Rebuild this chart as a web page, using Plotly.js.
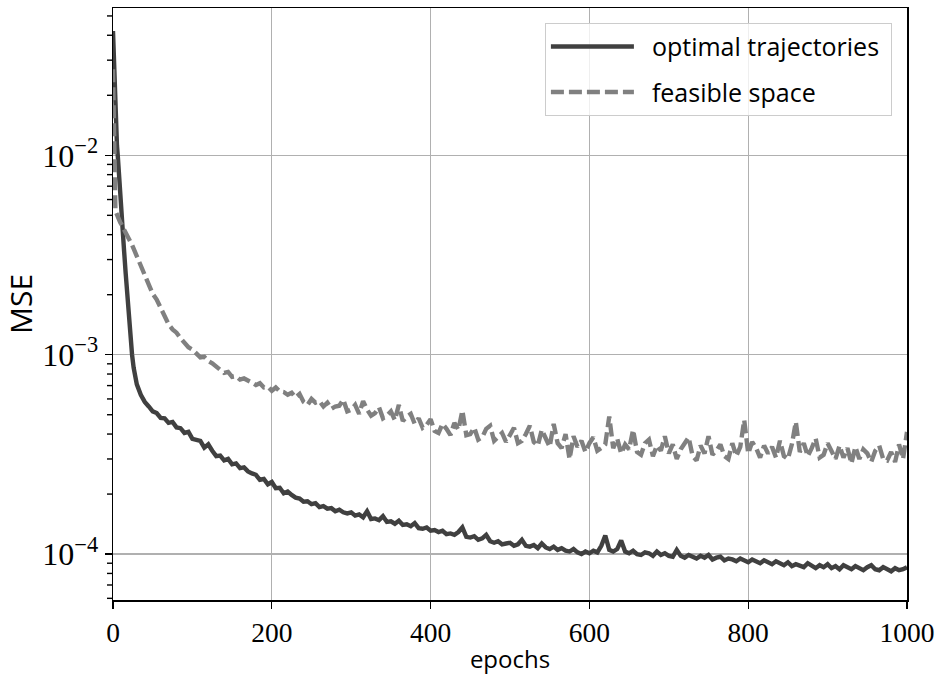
<!DOCTYPE html>
<html>
<head>
<meta charset="utf-8">
<script src="https://cdn.plot.ly/plotly-3.0.1.min.js"></script>
<style>html,body{margin:0;padding:0;background:#fff;}#chart{width:938px;height:675px;}</style>
</head>
<body>
<div id="chart"></div>
<script>
// Epochs at which values were read
const epochs = [0,1,2,3,4,5,6,7,8,9,10,12,14,16,18,20,22,24,26,28,30,
35,40,45,50,55,60,65,70,75,80,
85,90,95,100,105,110,115,120,125,130,
135,140,145,150,155,160,165,170,175,180,
185,190,195,200,205,210,215,220,225,230,
235,240,245,250,255,260,265,270,275,280,
285,290,295,300,305,310,315,320,325,330,
335,340,345,350,355,360,365,370,375,380,
385,390,395,400,405,410,415,420,425,430,
435,440,445,450,455,460,465,470,475,480,
485,490,495,500,505,510,515,520,525,530,
535,540,545,550,555,560,565,570,575,580,
585,590,595,600,605,610,615,620,625,630,
635,640,645,650,655,660,665,670,675,680,
685,690,695,700,705,710,715,720,725,730,
735,740,745,750,755,760,765,770,775,780,
785,790,795,800,805,810,815,820,825,830,
835,840,845,850,855,860,865,870,875,880,
885,890,895,900,905,910,915,920,925,930,
935,940,945,950,955,960,965,970,975,980,
985,990,995,1000];

// MSE of "optimal trajectories", in units of 1e-4
const optimalE4 = [420,300,220,165,130,112,100,85,72,61,55,43,33,25.5,19.5,15.5,12.2,10.0,8.6,7.7,7.1,
6.3,5.8,5.5,5.2,5.1,4.82,4.8,4.55,4.6,4.32,
4.28,4.05,4.1,3.78,3.74,3.7,3.42,3.55,3.3,3.1,
3.12,2.95,3.0,2.82,2.85,2.7,2.72,2.6,2.54,2.5,
2.36,2.38,2.24,2.3,2.14,2.15,2.02,2.06,1.98,1.92,
1.9,1.83,1.84,1.78,1.8,1.72,1.74,1.69,1.7,1.64,
1.67,1.62,1.6,1.62,1.56,1.58,1.53,1.64,1.5,1.51,
1.48,1.55,1.45,1.46,1.42,1.47,1.4,1.41,1.38,1.43,
1.35,1.34,1.36,1.31,1.32,1.29,1.31,1.26,1.27,1.25,
1.29,1.36,1.22,1.21,1.23,1.18,1.2,1.25,1.16,1.14,
1.16,1.12,1.13,1.14,1.1,1.12,1.18,1.1,1.09,1.11,
1.07,1.13,1.08,1.06,1.09,1.05,1.07,1.04,1.03,1.06,
1.02,1.0,1.03,1.01,1.04,1.02,1.1,1.24,1.05,1.03,
1.06,1.17,1.03,1.01,1.04,1.0,0.99,1.02,1.01,0.98,
1.03,0.99,1.01,0.98,0.97,1.05,0.98,0.96,0.99,0.97,
0.95,0.98,0.96,0.99,0.94,0.96,0.97,0.93,0.95,0.94,
0.92,0.95,0.93,0.91,0.94,0.92,0.9,0.93,0.91,0.89,
0.92,0.9,0.88,0.91,0.87,0.89,0.88,0.86,0.9,0.87,
0.85,0.88,0.86,0.89,0.85,0.87,0.84,0.88,0.86,0.84,
0.87,0.85,0.83,0.86,0.88,0.84,0.83,0.86,0.84,0.82,
0.85,0.83,0.84,0.86];

// MSE of "feasible space", in units of 1e-4
const feasibleE4 = [270,110,62,54,51.5,50,49,48,47,46.2,45.5,44,42.8,41.5,40,38.5,37,35.5,34,32.5,31,
27.5,24.5,22.3,20.2,18.9,17.2,15.9,14.2,13.4,12.9,
12.1,11.4,10.9,10.6,10.2,9.7,9.75,9.3,9.05,8.75,
8.45,8.1,8.2,7.75,7.8,7.5,7.6,7.45,7.25,7.05,
7.2,6.85,6.9,6.6,6.85,6.55,6.5,6.3,6.45,6.1,
6.35,5.8,5.6,6.0,5.75,5.85,5.5,5.75,5.35,5.5,
5.55,5.95,5.2,5.3,5.6,5.05,5.85,5.3,4.95,5.1,
5.45,4.8,4.95,5.2,4.7,5.6,4.65,4.9,5.05,4.5,
4.8,4.3,4.45,4.75,4.15,4.05,4.5,4.25,3.95,4.55,
4.2,5.25,3.95,4.0,4.3,3.75,3.85,4.25,4.4,3.7,
3.9,4.05,3.65,3.95,4.3,3.6,3.7,4.0,4.4,3.65,
3.5,4.2,3.8,3.45,4.5,3.6,3.4,4.0,3.0,3.9,
3.45,3.7,3.25,3.6,3.85,3.3,3.4,3.55,4.9,3.4,
3.8,3.2,3.55,3.35,4.2,3.25,3.15,3.6,3.75,3.1,
3.5,3.3,3.9,3.2,3.55,3.0,3.35,3.6,3.85,3.1,
2.95,3.5,3.2,3.9,3.15,3.3,3.55,3.1,3.0,3.6,
3.1,3.45,4.7,3.2,3.65,3.4,3.05,3.5,3.2,3.45,
3.05,3.7,3.1,3.0,3.55,4.6,3.25,3.6,3.1,3.4,
3.8,3.05,3.15,3.6,3.3,3.0,3.5,3.05,3.4,2.85,
3.45,3.0,3.35,3.2,2.9,3.3,3.5,3.0,2.95,3.25,
2.9,3.55,3.0,4.1];

const seriesNames = ["optimal trajectories", "feasible space"];
const yTickVals = [1e-4, 1e-3, 1e-2];
const yTickText = ["10<sup>\u22124</sup>", "10<sup>\u22123</sup>", "10<sup>\u22122</sup>"];
const yMinorVals = [6e-5,7e-5,8e-5,9e-5,2e-4,3e-4,4e-4,5e-4,6e-4,7e-4,8e-4,9e-4,
  2e-3,3e-3,4e-3,5e-3,6e-3,7e-3,8e-3,9e-3,2e-2,3e-2,4e-2,5e-2];
const xTickVals = [0, 200, 400, 600, 800, 1000];

const unit = 1e-4;
const optimal = optimalE4.map(v => v * unit);
const feasible = feasibleE4.map(v => v * unit);

const serif = "'Liberation Serif', 'DejaVu Serif', serif";
const sans = "'Open Sans', 'Noto Sans', 'DejaVu Sans', sans-serif";
const pad = "\u00a0\u00a0";
const yRange = [Math.log10(5.886e-5), Math.log10(0.0548)];

const traces = [
  {x: epochs, y: optimal, name: pad + seriesNames[0] + "\u00a0", legendgroup: 'a', type: 'scatter', mode: 'lines',
   line: {color: '#404040', width: 4.4}},
  {x: epochs, y: feasible, name: pad + seriesNames[1], legendgroup: 'b', type: 'scatter', mode: 'lines',
   line: {color: '#808080', width: 4.4, dash: '13px,5px'}}
];

// minor tick marks of the log axis (outside, left of the axis line)
const minorTicks = yMinorVals.map(v => {
  const p = (Math.log10(v) - yRange[0]) / (yRange[1] - yRange[0]);
  return {type: 'line', xref: 'paper', yref: 'paper', xsizemode: 'pixel', xanchor: 0,
    x0: -6, x1: 0, y0: p, y1: p, line: {color: '#000', width: 1.4}, layer: 'above'};
});

const layout = {
  width: 938, height: 675,
  margin: {l: 113, r: 31, t: 8, b: 75, pad: 0},
  paper_bgcolor: '#fff', plot_bgcolor: '#fff',
  showlegend: true,
  shapes: minorTicks,
  legend: {x: 0.981, y: 0.975, xanchor: 'right', yanchor: 'top',
    bgcolor: 'rgba(255,255,255,0.8)', bordercolor: '#cccccc', borderwidth: 1,
    font: {family: sans, size: 25, color: '#000'}, tracegroupgap: 10,
    traceorder: 'grouped', itemwidth: 83},
  xaxis: {
    range: [0, 1000], tickvals: xTickVals, ticktext: xTickVals.map(String),
    ticks: 'outside', ticklen: 7, tickwidth: 1.3, tickcolor: '#000',
    showline: true, mirror: true, linecolor: '#000', linewidth: 1.5,
    showgrid: true, gridcolor: '#b0b0b0', gridwidth: 1.3, zeroline: false,
    tickfont: {family: serif, size: 27.5, color: '#000'},
    title: {text: 'epochs', font: {family: sans, size: 24, color: '#000'}, standoff: 6}
  },
  yaxis: {
    type: 'log', range: yRange,
    tickvals: yTickVals, ticktext: yTickText,
    ticks: 'outside', ticklen: 7, tickwidth: 1.3, tickcolor: '#000',
    showline: true, mirror: true, linecolor: '#000', linewidth: 1.5,
    showgrid: true, gridcolor: '#b0b0b0', gridwidth: 1.3, zeroline: false,
    tickfont: {family: serif, size: 32, color: '#000'},
    title: {text: 'MSE', font: {family: sans, size: 30, color: '#000'}, standoff: 8}
  }
};

Plotly.newPlot('chart', traces, layout, {staticPlot: true, displayModeBar: false});
</script>
</body>
</html>
